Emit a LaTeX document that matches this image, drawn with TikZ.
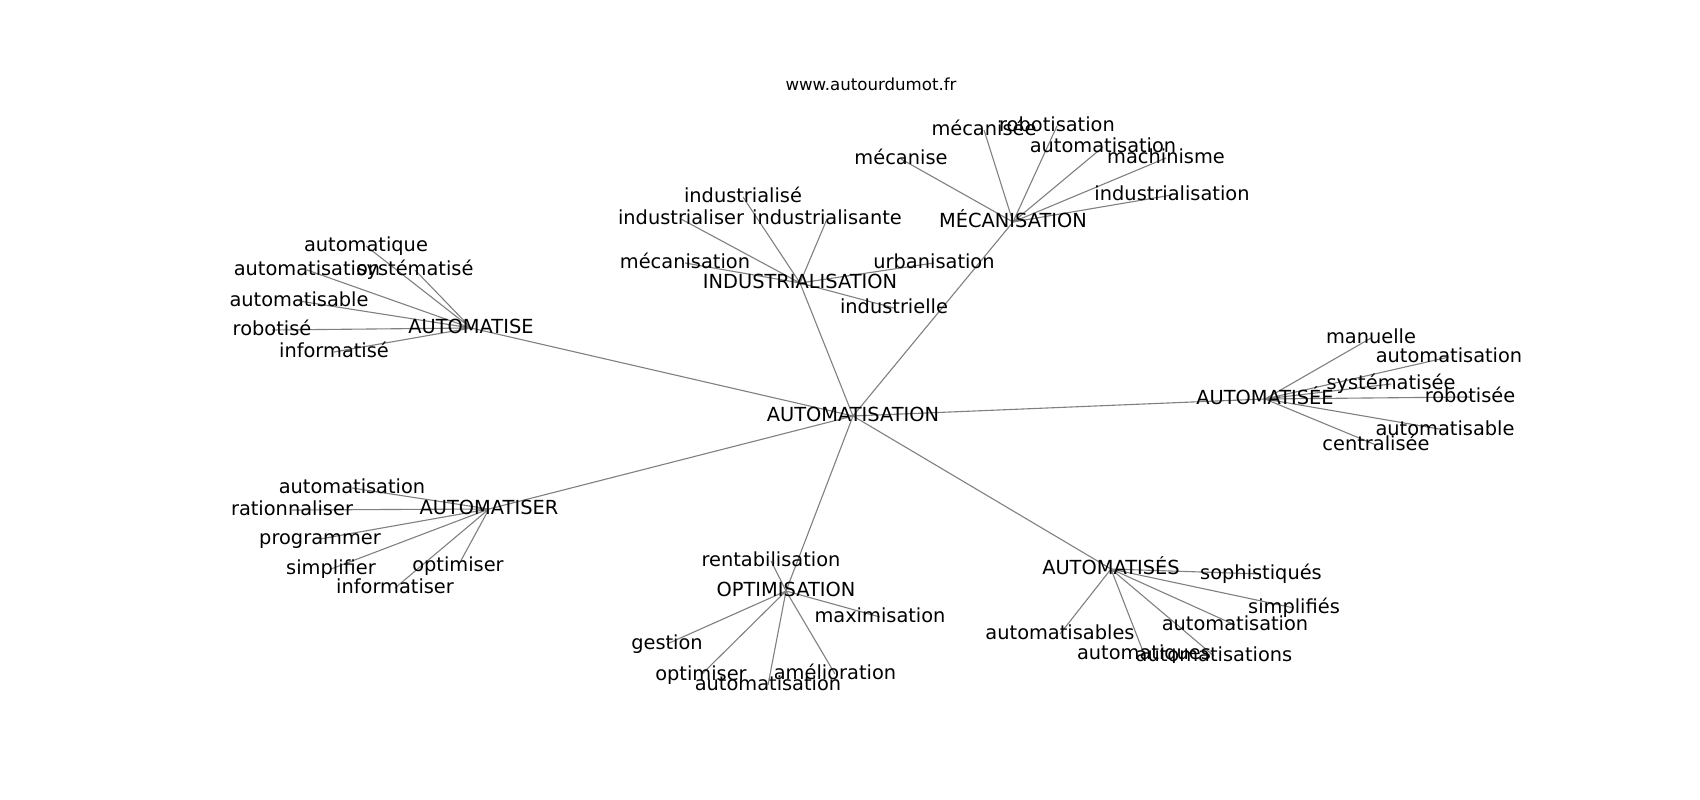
\documentclass[tikz,border=0pt]{standalone}
\usepackage{fontspec}
\setmainfont{DejaVu Sans}
\usetikzlibrary{backgrounds}

\begin{document}
\begin{tikzpicture}[x=0.01in,y=-0.01in,
						word/.style={inner sep=0pt,text height=0.73em,text depth=0pt,font=\fontsize{14}{16}\selectfont},
						site/.style={inner sep=0pt,font=\fontsize{12}{14}\selectfont},
						edge/.style={draw=gray,line width=0.8pt}]
		\useasboundingbox (0,-2) rectangle (1700,798);
		\node[site]	(site)	at (871,82)		{www.autourdumot.fr};
		\node[word]	(c)		at (853,414)	{AUTOMATISATION};

		\node[word]	(ise)	at (471,326)	{AUTOMATISE};
		\node[word]	(ise1)	at (366,244)	{automatique};
		\node[word]	(ise2)	at (307,268)	{automatisation};
		\node[word]	(ise3)	at (415,268)	{systématisé};
		\node[word]	(ise4)	at (299,299)	{automatisable};
		\node[word]	(ise5)	at (272,328)	{robotisé};
		\node[word]	(ise6)	at (334,350)	{informatisé};

		\node[word]	(ind)	at (800,281)	{INDUSTRIALISATION};
		\node[word]	(ind1)	at (743,195)	{industrialisé};
		\node[word]	(ind2)	at (681,217)	{industrialiser};
		\node[word]	(ind3)	at (827,217)	{industrialisante};
		\node[word]	(ind4)	at (685,261)	{mécanisation};
		\node[word]	(ind5)	at (934,261)	{urbanisation};
		\node[word]	(ind6)	at (894,306)	{industrielle};

		\node[word]	(mec)	at (1013,220)	{MÉCANISATION};
		\node[word]	(mec1)	at (984,128)	{mécanisée};
		\node[word]	(mec2)	at (1057,124)	{robotisation};
		\node[word]	(mec3)	at (1103,145)	{automatisation};
		\node[word]	(mec4)	at (901,157)	{mécanise};
		\node[word]	(mec5)	at (1166,156)	{machinisme};
		\node[word]	(mec6)	at (1172,193)	{industrialisation};

		\node[word]	(isee)	at (1265,397)	{AUTOMATISÉE};
		\node[word]	(isee1)	at (1371,336)	{manuelle};
		\node[word]	(isee2)	at (1449,355)	{automatisation};
		\node[word]	(isee3)	at (1391,382)	{systématisée};
		\node[word]	(isee4)	at (1470,395)	{robotisée};
		\node[word]	(isee5)	at (1445,428)	{automatisable};
		\node[word]	(isee6)	at (1376,443)	{centralisée};

		\node[word]	(iser)	at (489,507)	{AUTOMATISER};
		\node[word]	(iser1)	at (352,486)	{automatisation};
		\node[word]	(iser2)	at (292,508)	{rationnaliser};
		\node[word]	(iser3)	at (320,537)	{programmer};
		\node[word]	(iser4)	at (331,567)	{simplifier};
		\node[word]	(iser5)	at (458,564)	{optimiser};
		\node[word]	(iser6)	at (395,586)	{informatiser};

		\node[word]	(opt)	at (786,589)	{OPTIMISATION};
		\node[word]	(opt1)	at (771,559)	{rentabilisation};
		\node[word]	(opt2)	at (880,615)	{maximisation};
		\node[word]	(opt3)	at (667,642)	{gestion};
		\node[word]	(opt4)	at (701,673)	{optimiser};
		\node[word]	(opt5)	at (768,683)	{automatisation};
		\node[word]	(opt6)	at (835,672)	{amélioration};

		\node[word]	(ises)	at (1111,567)	{AUTOMATISÉS};
		\node[word]	(ises1)	at (1261,572)	{sophistiqués};
		\node[word]	(ises2)	at (1294,606)	{simplifiés};
		\node[word]	(ises3)	at (1235,623)	{automatisation};
		\node[word]	(ises4)	at (1060,632)	{automatisables};
		\node[word]	(ises5)	at (1144,652)	{automatiques};
		\node[word]	(ises6)	at (1214,654)	{automatisations};

		\begin{scope}[on background layer]
		\draw[edge] (c.center) -- (ise.center) (c.center) -- (ind.center) (c.center) -- (mec.center) (c.center) -- (isee.center)
			(c.center) -- (iser.center) (c.center) -- (opt.center) (c.center) -- (ises.center);
		\draw[edge] (ise.center) -- (ise1.center) (ise.center) -- (ise2.center) (ise.center) -- (ise3.center)
			(ise.center) -- (ise4.center) (ise.center) -- (ise5.center) (ise.center) -- (ise6.center);
		\draw[edge] (ind.center) -- (ind1.center) (ind.center) -- (ind2.center) (ind.center) -- (ind3.center)
			(ind.center) -- (ind4.center) (ind.center) -- (ind5.center) (ind.center) -- (ind6.center);
		\draw[edge] (mec.center) -- (mec1.center) (mec.center) -- (mec2.center) (mec.center) -- (mec3.center)
			(mec.center) -- (mec4.center) (mec.center) -- (mec5.center) (mec.center) -- (mec6.center);
		\draw[edge] (isee.center) -- (isee1.center) (isee.center) -- (isee2.center) (isee.center) -- (isee3.center)
			(isee.center) -- (isee4.center) (isee.center) -- (isee5.center) (isee.center) -- (isee6.center);
		\draw[edge] (iser.center) -- (iser1.center) (iser.center) -- (iser2.center) (iser.center) -- (iser3.center)
			(iser.center) -- (iser4.center) (iser.center) -- (iser5.center) (iser.center) -- (iser6.center);
		\draw[edge] (opt.center) -- (opt1.center) (opt.center) -- (opt2.center) (opt.center) -- (opt3.center)
			(opt.center) -- (opt4.center) (opt.center) -- (opt5.center) (opt.center) -- (opt6.center);
		\draw[edge] (ises.center) -- (ises1.center) (ises.center) -- (ises2.center) (ises.center) -- (ises3.center)
			(ises.center) -- (ises4.center) (ises.center) -- (ises5.center) (ises.center) -- (ises6.center);
		\end{scope}
	\end{tikzpicture}
\end{document}
